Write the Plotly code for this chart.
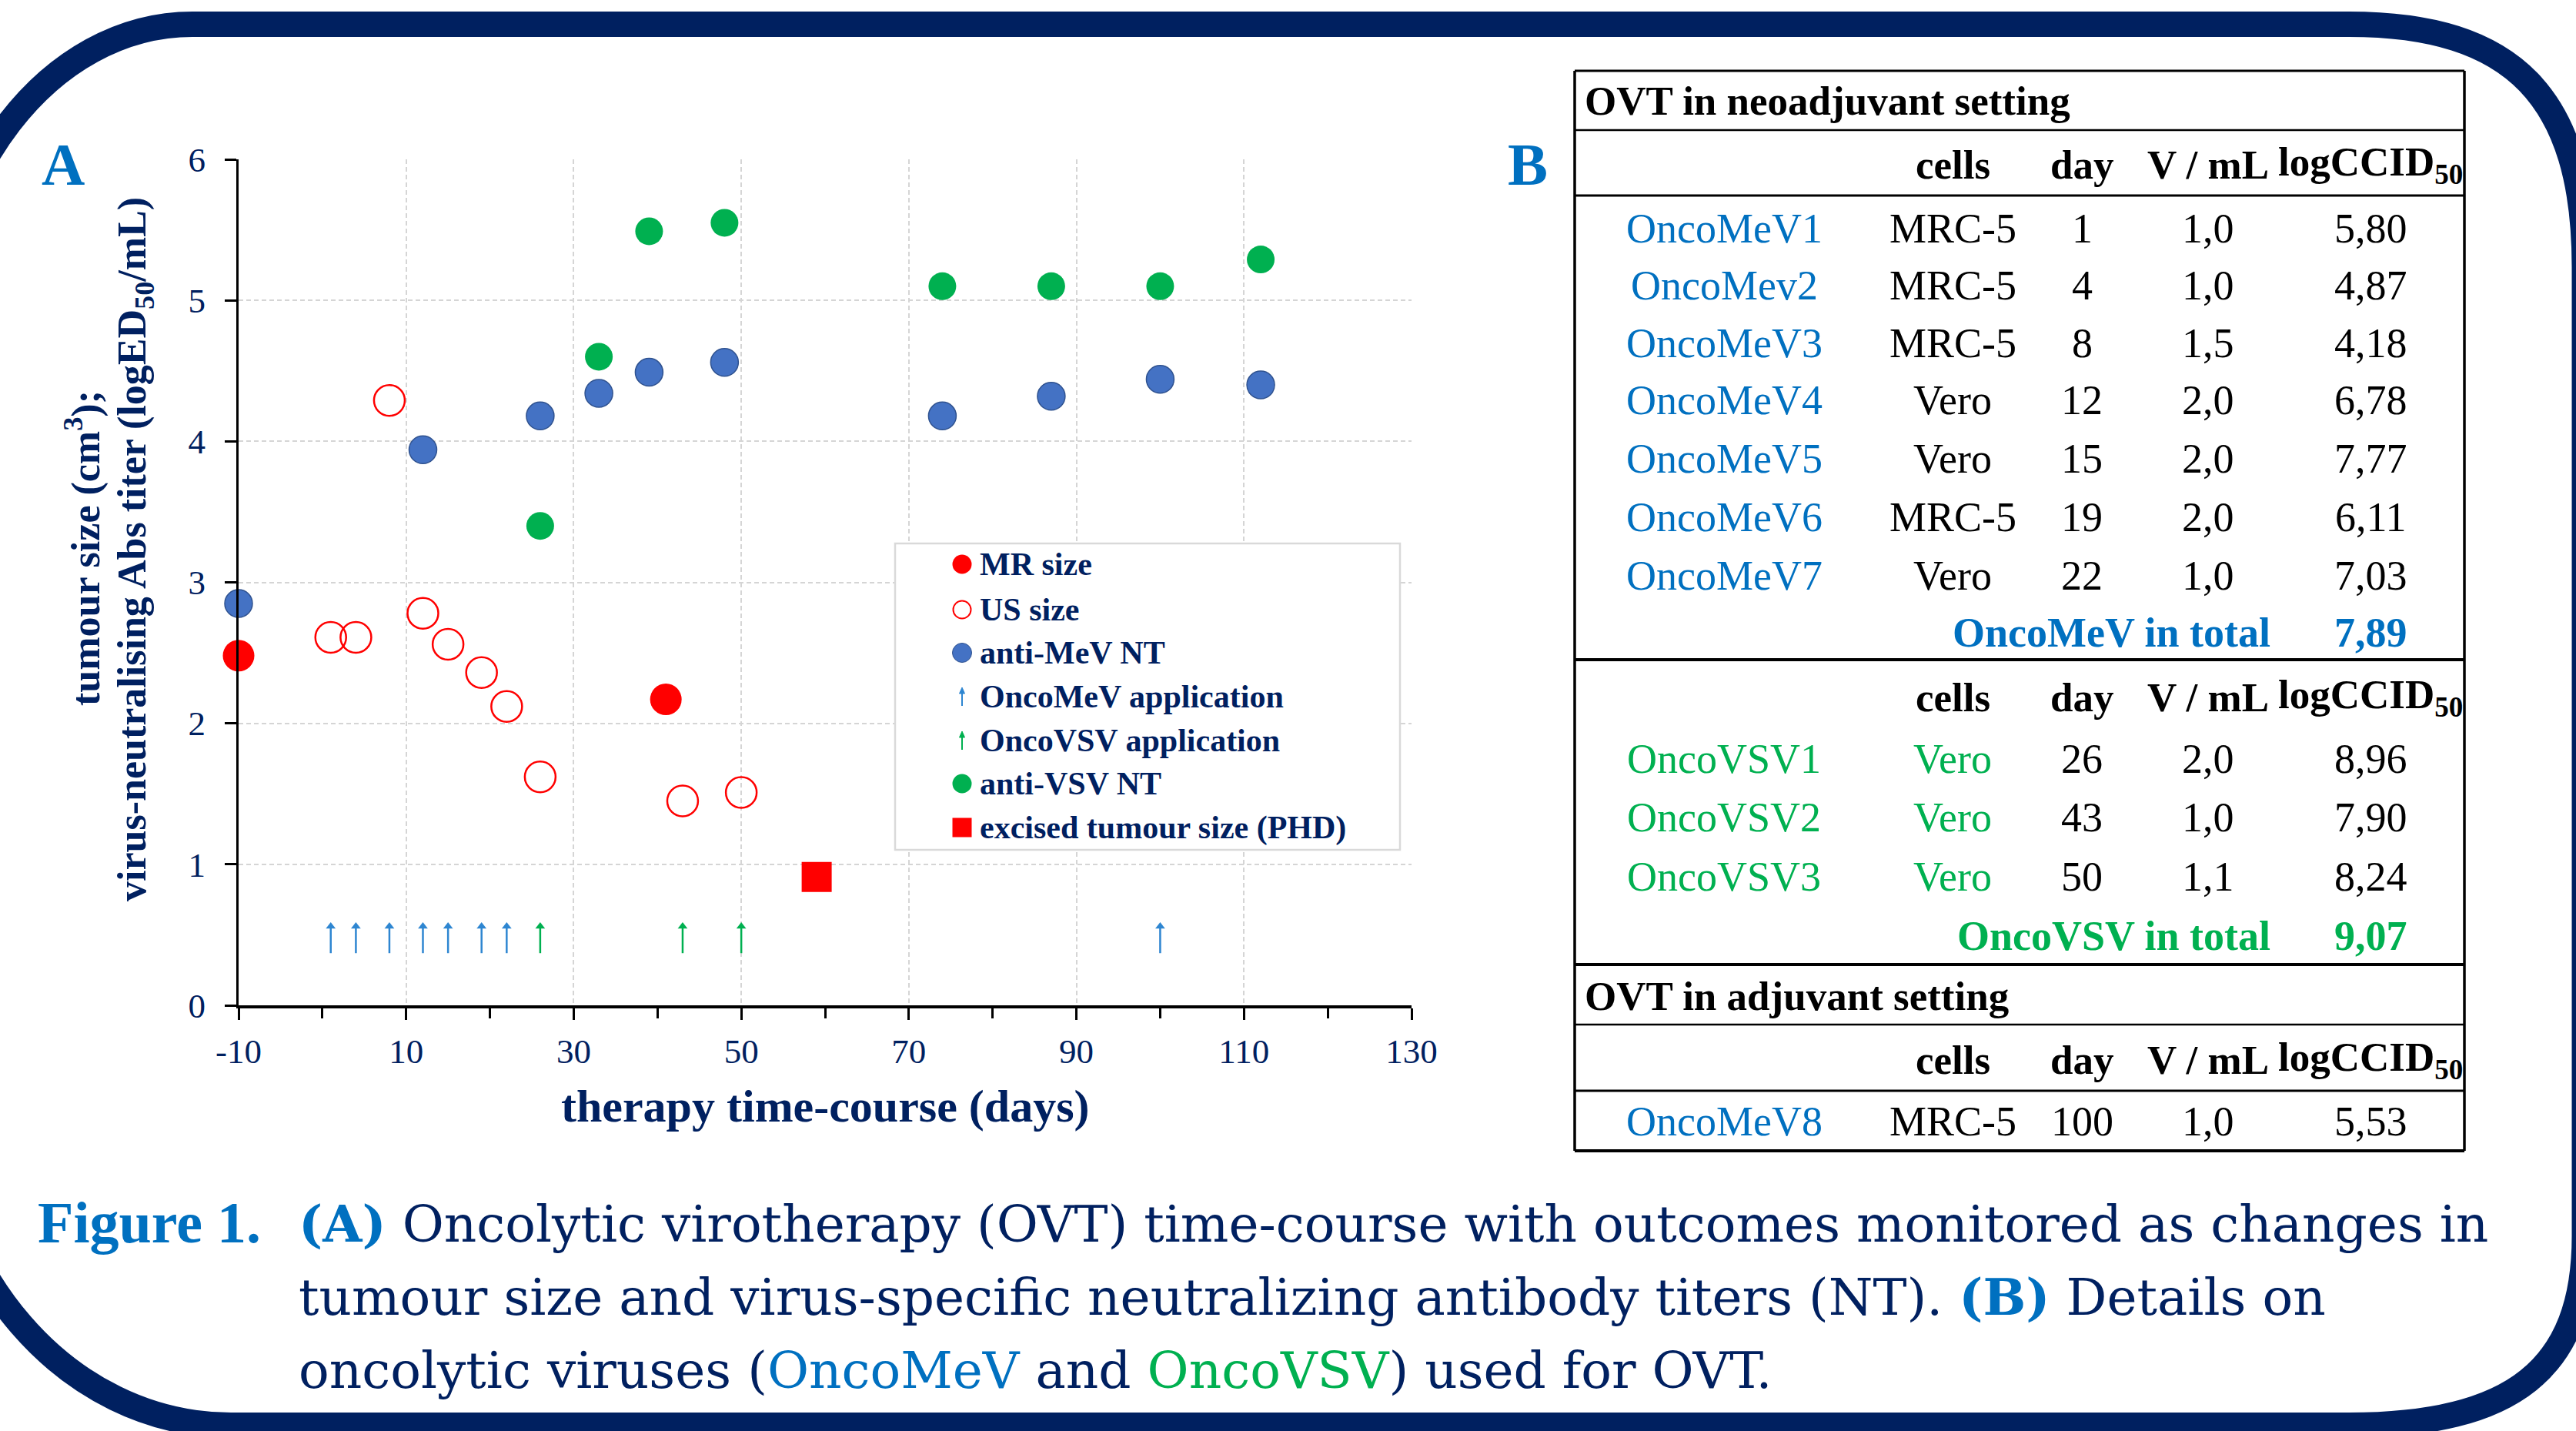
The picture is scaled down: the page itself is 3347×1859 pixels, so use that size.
import plotly.graph_objects as go

W, H = 3347, 1859
NAVY = "#002060"
BLUE_T = "#0070C0"
GREEN = "#00B050"
RED = "#FF0000"
MEV = "#4472C4"
ARROW_BLUE = "#2E86D1"
FONT = "Liberation Serif, Times New Roman, serif"
CAP_FONT = "DejaVu Serif, Liberation Serif, serif"

# ---------------- data (panel A) ----------------
mr_day = [-10, 41]
mr_size = [2.48, 2.17]
us_day = [1, 4, 8, 12, 15, 19, 22, 26, 43, 50]
us_size = [2.61, 2.61, 4.29, 2.78, 2.56, 2.36, 2.12, 1.62, 1.45, 1.51]
mev_nt_day = [-10, 12, 26, 33, 39, 48, 74, 87, 100, 112]
mev_nt = [2.85, 3.94, 4.18, 4.34, 4.49, 4.56, 4.18, 4.32, 4.44, 4.40]
vsv_nt_day = [26, 33, 39, 48, 74, 87, 100, 112]
vsv_nt = [3.40, 4.60, 5.49, 5.55, 5.10, 5.10, 5.10, 5.29]
phd_day = [59]
phd_size = [0.91]
mev_app_days = [1, 4, 8, 12, 15, 19, 22, 100]
vsv_app_days = [26, 43, 50]
arrow_base, arrow_head = 0.37, 0.56
x_ticks = [-10, 10, 30, 50, 70, 90, 110, 130]
y_ticks = [0, 1, 2, 3, 4, 5, 6]
legend_labels = ["MR size", "US size", "anti-MeV NT", "OncoMeV application",
                 "OncoVSV application", "anti-VSV NT", "excised tumour size (PHD)"]

# ---------------- data (panel B table) ----------------
neo_mev_names = ["OncoMeV1", "OncoMev2", "OncoMeV3", "OncoMeV4", "OncoMeV5", "OncoMeV6", "OncoMeV7"]
neo_mev_cells = ["MRC-5", "MRC-5", "MRC-5", "Vero", "Vero", "MRC-5", "Vero"]
neo_mev_days = [1, 4, 8, 12, 15, 19, 22]
neo_mev_vol = ["1,0", "1,0", "1,5", "2,0", "2,0", "2,0", "1,0"]
neo_mev_titer = ["5,80", "4,87", "4,18", "6,78", "7,77", "6,11", "7,03"]
mev_total = "7,89"
neo_vsv_names = ["OncoVSV1", "OncoVSV2", "OncoVSV3"]
neo_vsv_cells = ["Vero", "Vero", "Vero"]
neo_vsv_days = [26, 43, 50]
neo_vsv_vol = ["2,0", "1,0", "1,1"]
neo_vsv_titer = ["8,96", "7,90", "8,24"]
vsv_total = "9,07"
adj_names = ["OncoMeV8"]
adj_cells = ["MRC-5"]
adj_days = [100]
adj_vol = ["1,0"]
adj_titer = ["5,53"]
table_headers = ["cells", "day", "V / mL", "logCCID<sub>50</sub>"]


def X(px):
    return px / W


def Y(py):
    return 1 - py / H


fig = go.Figure()


def arrow_traces(days, color):
    xs, ys = [], []
    for d in days:
        xs += [d, d, None]
        ys += [arrow_base, arrow_head, None]
    fig.add_trace(go.Scatter(x=xs, y=ys, mode="lines", line=dict(color=color, width=2.5),
                             hoverinfo="skip", showlegend=False, cliponaxis=False))
    fig.add_trace(go.Scatter(x=days, y=[arrow_head] * len(days), mode="markers",
                             marker=dict(symbol="triangle-up", size=11, color=color, line=dict(width=0)),
                             hoverinfo="skip", showlegend=False, cliponaxis=False))


arrow_traces(mev_app_days, ARROW_BLUE)
arrow_traces(vsv_app_days, GREEN)

fig.add_trace(go.Scatter(x=mr_day, y=mr_size, mode="markers", name="MR size",
                         marker=dict(symbol="circle", size=41, color=RED, line=dict(width=0)),
                         cliponaxis=False, showlegend=False))
fig.add_trace(go.Scatter(x=us_day, y=us_size, mode="markers", name="US size",
                         marker=dict(symbol="circle-open", size=40, color=RED, line=dict(width=2.5, color=RED)),
                         cliponaxis=False, showlegend=False))
fig.add_trace(go.Scatter(x=mev_nt_day, y=mev_nt, mode="markers", name="anti-MeV NT",
                         marker=dict(symbol="circle", size=36, color=MEV, line=dict(width=1.5, color="#2F528F")),
                         cliponaxis=False, showlegend=False))
fig.add_trace(go.Scatter(x=vsv_nt_day, y=vsv_nt, mode="markers", name="anti-VSV NT",
                         marker=dict(symbol="circle", size=36, color=GREEN, line=dict(width=0)),
                         cliponaxis=False, showlegend=False))
fig.add_trace(go.Scatter(x=phd_day, y=phd_size, mode="markers", name="excised tumour size (PHD)",
                         marker=dict(symbol="square", size=39, color=RED, line=dict(width=0)),
                         cliponaxis=False, showlegend=False))

annotations = []
shapes = []

# ---------- axes ----------
fig.update_xaxes(domain=[X(310), X(1834)], range=[-10, 130], tickmode="array", tickvals=x_ticks,
                 ticktext=[str(v) for v in x_ticks], ticks="outside", ticklen=15, tickwidth=3, tickcolor="black",
                 showline=True, linecolor="black", linewidth=4, showgrid=True, gridcolor="#D5D5D5",
                 gridwidth=2, griddash="6px,4px", zeroline=False, ticklabelstandoff=2,
                 tickfont=dict(family=FONT, size=45, color=NAVY),
                 minor=dict(ticks="outside", ticklen=13, tickwidth=3, tickcolor="black", dtick=10, tick0=-10,
                            showgrid=False))
fig.update_yaxes(domain=[Y(1306), Y(207)], range=[0, 6], tickmode="array", tickvals=y_ticks,
                 ticks="outside", ticklen=15, tickwidth=3, tickcolor="black",
                 showline=True, linecolor="black", linewidth=3, showgrid=True, gridcolor="#D5D5D5",
                 gridwidth=2, griddash="6px,4px", zeroline=False, ticklabelstandoff=16,
                 tickfont=dict(family=FONT, size=45, color=NAVY))


def txt(xp, yp, s, color=NAVY, size=54, anchor="center", angle=0, family=FONT):
    annotations.append(dict(x=X(xp), y=Y(yp), xref="paper", yref="paper", text=s, showarrow=False,
                            xanchor=anchor, yanchor="middle", textangle=angle,
                            font=dict(family=family, size=size, color=color)))


# axis titles
txt(108, 712, "<b>tumour size (cm<sup>3</sup>);</b>", NAVY, 52, angle=-90)
txt(175, 714, "<b>virus-neutralising Abs titer (logED<sub>50</sub>/mL)</b>", NAVY, 52, angle=-90)
txt(1072, 1437, "<b>therapy time-course (days)</b>", NAVY, 60)

# panel letters
txt(82, 214, "<b>A</b>", BLUE_T, 78)
txt(1985, 214, "<b>B</b>", BLUE_T, 78)

# ---------- manual legend ----------
shapes.append(dict(type="rect", xref="paper", yref="paper", x0=X(1163), x1=X(1819), y0=Y(706), y1=Y(1104),
                   line=dict(color="#D9D9D9", width=2.5), fillcolor="white", layer="above"))
leg_y = [733, 792, 848, 905, 962, 1018, 1075]
mx, r = 1250, 12.5
for lab, yy in zip(legend_labels, leg_y):
    txt(1271, yy, "<b>%s</b>" % lab, NAVY, 42, anchor="left")
shapes.append(dict(type="circle", xref="paper", yref="paper", x0=X(mx - r), x1=X(mx + r), y0=Y(leg_y[0] - r),
                   y1=Y(leg_y[0] + r), fillcolor=RED, line=dict(width=0), layer="above"))
shapes.append(dict(type="circle", xref="paper", yref="paper", x0=X(mx - r + 1), x1=X(mx + r - 1),
                   y0=Y(leg_y[1] - r + 1), y1=Y(leg_y[1] + r - 1), fillcolor="rgba(0,0,0,0)",
                   line=dict(width=2, color=RED), layer="above"))
shapes.append(dict(type="circle", xref="paper", yref="paper", x0=X(mx - r), x1=X(mx + r), y0=Y(leg_y[2] - r),
                   y1=Y(leg_y[2] + r), fillcolor=MEV, line=dict(width=1, color="#2F528F"), layer="above"))
shapes.append(dict(type="circle", xref="paper", yref="paper", x0=X(mx - r), x1=X(mx + r), y0=Y(leg_y[5] - r),
                   y1=Y(leg_y[5] + r), fillcolor=GREEN, line=dict(width=0), layer="above"))
shapes.append(dict(type="rect", xref="paper", yref="paper", x0=X(mx - r), x1=X(mx + r), y0=Y(leg_y[6] - r),
                   y1=Y(leg_y[6] + r), fillcolor=RED, line=dict(width=0), layer="above"))
for yy, col in ((leg_y[3], ARROW_BLUE), (leg_y[4], GREEN)):
    shapes.append(dict(type="line", xref="paper", yref="paper", x0=X(mx), x1=X(mx), y0=Y(yy + 12), y1=Y(yy - 5),
                       line=dict(color=col, width=2), layer="above"))
    shapes.append(dict(type="path", xref="paper", yref="paper",
                       path="M %f,%f L %f,%f L %f,%f Z" % (X(mx - 3.5), Y(yy - 4), X(mx + 3.5), Y(yy - 4),
                                                          X(mx), Y(yy - 12)),
                       fillcolor=col, line=dict(color=col, width=1), layer="above"))

# ---------- table (panel B) ----------
TL_, TR_ = 2046, 3202
col_name, col_cells, col_day, col_vol, col_tit = 2240, 2537, 2705, 2869, 3080


def hline(yp, w):
    shapes.append(dict(type="line", xref="paper", yref="paper", x0=X(TL_), x1=X(TR_), y0=Y(yp), y1=Y(yp),
                       line=dict(color="black", width=w), layer="above"))


for yp, w in ((92, 3), (169, 2.5), (254, 3), (857, 4), (1253, 4), (1331, 2.5), (1417, 3), (1495, 4)):
    hline(yp, w)
for xp in (TL_, TR_):
    shapes.append(dict(type="line", xref="paper", yref="paper", x0=X(xp), x1=X(xp), y0=Y(92), y1=Y(1495),
                       line=dict(color="black", width=3.5), layer="above"))


def header(yp):
    for hd, cx in zip(table_headers, (col_cells, col_day, col_vol, col_tit)):
        txt(cx, yp, "<b>%s</b>" % hd, "black", 53)


def rows(ys, names, cells, days, vols, tits, name_col, cell_col):
    for yy, n, c, d, v, t in zip(ys, names, cells, days, vols, tits):
        txt(col_name, yy, n, name_col, 54)
        txt(col_cells, yy, c, cell_col, 54)
        txt(col_day, yy, str(d), "black", 54)
        txt(col_vol, yy, v, "black", 54)
        txt(col_tit, yy, t, "black", 54)


txt(2057, 131, "<b>OVT in neoadjuvant setting</b>", "black", 53, anchor="left")
header(214)
rows([297, 371, 446, 520, 596, 672, 748], neo_mev_names, neo_mev_cells, neo_mev_days, neo_mev_vol,
     neo_mev_titer, BLUE_T, "black")
txt(2952, 822, "<b>OncoMeV in total</b>", BLUE_T, 54, anchor="right")
txt(col_tit, 822, "<b>%s</b>" % mev_total, BLUE_T, 54)
header(906)
rows([986, 1062, 1139], neo_vsv_names, neo_vsv_cells, neo_vsv_days, neo_vsv_vol, neo_vsv_titer, GREEN, GREEN)
txt(2952, 1216, "<b>OncoVSV in total</b>", GREEN, 54, anchor="right")
txt(col_tit, 1216, "<b>%s</b>" % vsv_total, GREEN, 54)
txt(2057, 1294, "<b>OVT in adjuvant setting</b>", "black", 53, anchor="left")
header(1377)
rows([1457], adj_names, adj_cells, adj_days, adj_vol, adj_titer, BLUE_T, "black")

# ---------- caption ----------
bl = lambda s: '<span style="color:%s"><b>%s</b></span>' % (BLUE_T, s)
txt(47, 1588, bl("Figure 1."), BLUE_T, 76, anchor="left")
txt(386, 1590, bl("(A)") + " Oncolytic virotherapy (OVT) time-course with outcomes monitored as changes in",
    NAVY, 66, anchor="left", family=CAP_FONT)
txt(386, 1685, "tumour size and virus-specific neutralizing antibody titers (NT). " + bl("(B)") + " Details on",
    NAVY, 66, anchor="left", family=CAP_FONT)
txt(386, 1780, 'oncolytic viruses (<span style="color:%s">OncoMeV</span> and '
               '<span style="color:%s">OncoVSV</span>) used for OVT.' % (BLUE_T, GREEN), NAVY, 66,
    anchor="left", family=CAP_FONT)

# ---------- decorative rounded frame ----------
L, R, T, B = -86, 3358, 31.5, 1851.5
corners = {"TL": (336, 436, 0.5523), "TR": (306, 316, 0.70), "BR": (306, 246, 0.70), "BL": (386, 447, 0.5523)}


def P(x, y):
    return "%.5f,%.5f" % (X(x), Y(y))


h, v, k = corners["TL"]
path = "M " + P(L + h, T)
h2, v2, k2 = corners["TR"]
path += " L " + P(R - h2, T)
path += " C " + P(R - h2 * (1 - k2), T) + " " + P(R, T + v2 * (1 - k2)) + " " + P(R, T + v2)
h3, v3, k3 = corners["BR"]
path += " L " + P(R, B - v3)
path += " C " + P(R, B - v3 * (1 - k3)) + " " + P(R - h3 * (1 - k3), B) + " " + P(R - h3, B)
h4, v4, k4 = corners["BL"]
path += " L " + P(L + h4, B)
path += " C " + P(L + h4 * (1 - k4), B) + " " + P(L, B - v4 * (1 - k4)) + " " + P(L, B - v4)
path += " L " + P(L, T + v)
path += " C " + P(L, T + v * (1 - k)) + " " + P(L + h * (1 - k), T) + " " + P(L + h, T) + " Z"
shapes.append(dict(type="path", xref="paper", yref="paper", path=path,
                   line=dict(color=NAVY, width=33), fillcolor="rgba(0,0,0,0)", layer="above"))

fig.update_layout(width=W, height=H, margin=dict(l=0, r=0, t=0, b=0, autoexpand=False),
                  paper_bgcolor="white", plot_bgcolor="white", showlegend=False,
                  annotations=annotations, shapes=shapes,
                  font=dict(family=FONT, color=NAVY))

fig.write_html("out.html", config={"displayModeBar": False},
               post_script="document.body.style.margin='0px';document.body.style.overflow='hidden';")
